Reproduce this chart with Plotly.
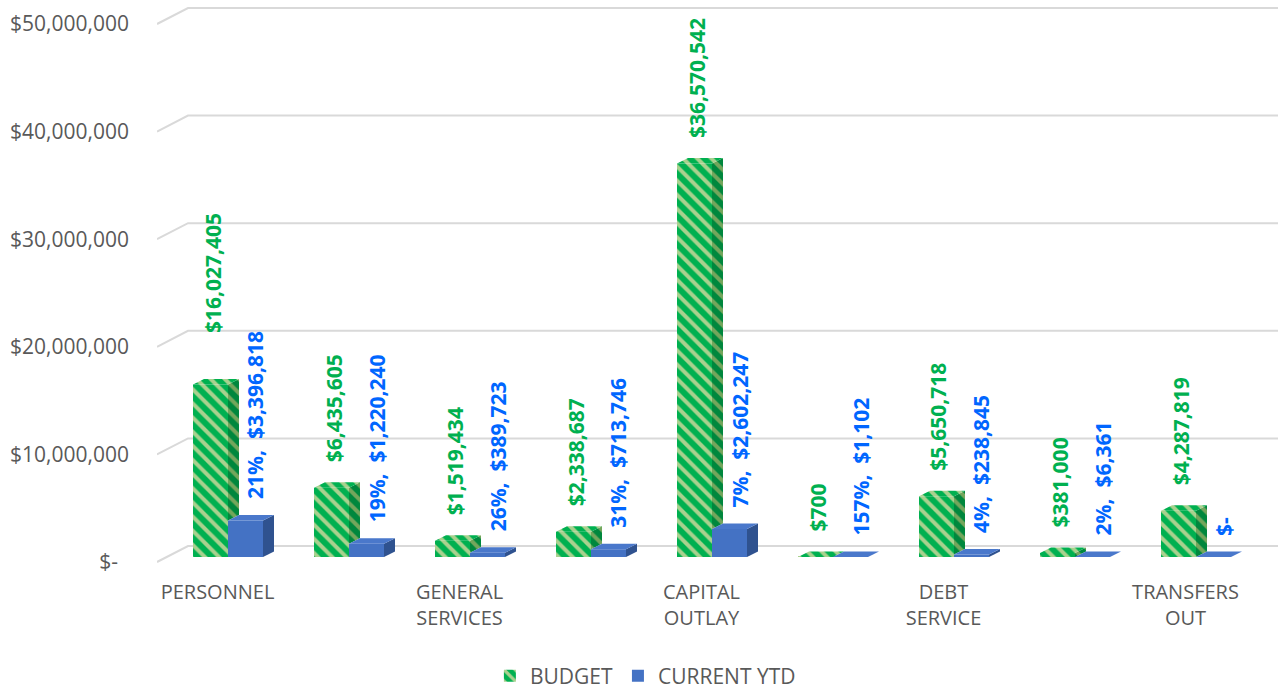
import plotly.graph_objects as go

# ---- data -------------------------------------------------------------
categories = ["PERSONNEL", "", "GENERAL<br>SERVICES", "", "CAPITAL<br>OUTLAY", "",
              "DEBT<br>SERVICE", "", "TRANSFERS<br>OUT"]
budget = [16027405, 6435605, 1519434, 2338687, 36570542, 700, 5650718, 381000, 4287819]
current_ytd = [3396818, 1220240, 389723, 713746, 2602247, 1102, 238845, 6361, 0]
y_ticks = [0, 10000000, 20000000, 30000000, 40000000, 50000000]
y_tick_labels = ["$-\u00a0\u00a0", "$10,000,000", "$20,000,000", "$30,000,000",
                 "$40,000,000", "$50,000,000"]

# ---- geometry (pixels) -------------------------------------------------
W, H = 1278, 692
M_L, M_T, M_B = 157, 0, 122
PLOT_W = W - M_L
PLOT_H = H - M_T - M_B
PX_PER_CAT = 121.0
PX_PER_USD = 10.76e-6
BAR_BASE_PX = 557          # bar floor (from plot top)
FRONT_BASE_PX = 562        # front edge of the floor
BACK_BASE_PX = 546         # back wall floor line
WALL_DX_PX = 31            # depth of the side wall
BAR_DX_PX, BAR_DY_PX = 11, 5.5
BAR_W_PX = 35
GROUP_SHIFT_PX = 10.5

GREEN = "#00b050"
GREEN_STRIPE = "#a9d18e"
GREEN_DARK = "#00873d"
GREEN_DARK_STRIPE = "#74a65c"
BLUE = "#4472c4"
BLUE_DARK = "#2f528f"
BLUE_TOP = "#4a78cb"
LABEL_GREEN = "#00b050"
LABEL_BLUE = "#0066ff"
TEXT_GREY = "#595959"
GRID = "#d9d9d9"
FONT = "Open Sans"


def px_x(px):
    return px / PX_PER_CAT


def px_y(px):
    return px / PX_PER_USD


x_min = -0.5
x_max = x_min + px_x(PLOT_W)
y_min = -px_y(PLOT_H - BAR_BASE_PX)
y_max = px_y(BAR_BASE_PX)

BW = px_x(BAR_W_PX)
DX, DY = px_x(BAR_DX_PX), px_y(BAR_DY_PX)
shift = px_x(GROUP_SHIFT_PX)
xs = [i + shift for i in range(len(budget))]


def pattern(bg, fg):
    return dict(shape="\\", bgcolor=bg, fgcolor=fg, size=10, solidity=0.4,
                fillmode="replace")


def poly_trace(polys, fillcolor, fillpattern=None):
    px, py = [], []
    for p in polys:
        for (a, b) in p + [p[0]]:
            px.append(a)
            py.append(b)
        px.append(None)
        py.append(None)
    kw = dict(x=px, y=py, mode="lines", fill="toself", fillcolor=fillcolor,
              line=dict(width=0, color=fillcolor), showlegend=False,
              hoverinfo="skip")
    if fillpattern:
        kw["fillpattern"] = fillpattern
    return go.Scatter(**kw)


fig = go.Figure()

# front faces
fig.add_trace(go.Bar(
    name="BUDGET", x=xs, y=budget, width=BW, offset=-BW,
    marker=dict(color=GREEN, line=dict(width=0),
                pattern=pattern(GREEN, GREEN_STRIPE)),
    hovertemplate="%{y:$,.0f}<extra>BUDGET</extra>"))
fig.add_trace(go.Bar(
    name="CURRENT YTD", x=xs, y=current_ytd, width=BW, offset=0,
    marker=dict(color=BLUE, line=dict(width=0)),
    hovertemplate="%{y:$,.0f}<extra>CURRENT YTD</extra>"))

# side and top faces
b_side, b_top, c_side, c_top = [], [], [], []
for x, b, c in zip(xs, budget, current_ytd):
    x0, x1 = x - BW, x
    lo = min(b, c)
    b_side.append([(x1, lo), (x1 + DX, lo + DY), (x1 + DX, b + DY), (x1, b)])
    b_top.append([(x0, b), (x0 + DX, b + DY), (x1 + DX, b + DY), (x1, b)])
    x0, x1 = x, x + BW
    c_side.append([(x1, 0), (x1 + DX, DY), (x1 + DX, c + DY), (x1, c)])
    c_top.append([(x0, c), (x0 + DX, c + DY), (x1 + DX, c + DY), (x1, c)])

fig.add_trace(poly_trace(b_side, GREEN_DARK, pattern(GREEN_DARK, GREEN_DARK_STRIPE)))
fig.add_trace(poly_trace(b_top, GREEN, pattern(GREEN, GREEN_STRIPE)))
fig.add_trace(poly_trace(c_side, BLUE_DARK))
fig.add_trace(poly_trace(c_top, BLUE_TOP))

# empty trace so the front-plane value axis is drawn
fig.add_trace(go.Scatter(x=[None], y=[None], yaxis="y2", showlegend=False,
                         hoverinfo="skip"))

# wall gridlines: slanted on the left, then along the back wall
front_off = px_y(BAR_BASE_PX - FRONT_BASE_PX)
back_off = px_y(BAR_BASE_PX - BACK_BASE_PX)
x_back = x_min + px_x(WALL_DX_PX)
shapes = []
for t in y_ticks:
    shapes.append(dict(
        type="path", xref="x", yref="y", layer="below",
        path=f"M {x_min},{t + front_off} L {x_back},{t + back_off} L {x_max},{t + back_off}",
        line=dict(color=GRID, width=2)))

# data labels
annotations = []
label_font = dict(family=FONT, size=21, weight="bold")
for i, (x, b, c) in enumerate(zip(xs, budget, current_ytd)):
    lift = 26 if i == 0 else 0
    annotations.append(dict(
        x=x - BW / 2, y=b, xref="x", yref="y", text=f"${b:,}",
        textangle=-90, showarrow=False, xanchor="center", yanchor="bottom",
        xshift=2, yshift=23 + lift,
        font=dict(label_font, color=LABEL_GREEN)))
    ctext = f"{c / b:.0%},  ${c:,}" if c else "$-"
    annotations.append(dict(
        x=x + BW / 2, y=c, xref="x", yref="y", text=ctext,
        textangle=-90, showarrow=False, xanchor="center", yanchor="bottom",
        xshift=10, yshift=19,
        font=dict(label_font, color=LABEL_BLUE)))

tick_idx = [i for i, c in enumerate(categories) if c]

fig.update_layout(
    width=W, height=H,
    margin=dict(l=M_L, r=0, t=M_T, b=M_B, pad=0),
    paper_bgcolor="white", plot_bgcolor="white",
    barmode="overlay",
    font=dict(family=FONT, size=20, color=TEXT_GREY),
    xaxis=dict(range=[x_min, x_max], showgrid=False, zeroline=False,
               showline=False, ticks="", tickmode="array",
               tickvals=tick_idx, ticktext=[categories[i] for i in tick_idx],
               ticklabelstandoff=8,
               tickfont=dict(family=FONT, size=20, color=TEXT_GREY)),
    yaxis=dict(range=[y_min, y_max], visible=False, fixedrange=True),
    yaxis2=dict(range=[-px_y(PLOT_H - FRONT_BASE_PX), px_y(FRONT_BASE_PX)],
                overlaying="y", side="left", showgrid=False, zeroline=False,
                showline=False, ticks="", tickmode="array", tickvals=y_ticks,
                ticktext=y_tick_labels, ticklabelstandoff=27,
                tickfont=dict(family=FONT, size=21, color=TEXT_GREY)),
    shapes=shapes,
    annotations=annotations,
    legend=dict(orientation="h", xref="container", yref="container",
                x=0.505, y=1 - 676 / H, xanchor="center", yanchor="middle",
                font=dict(family=FONT, size=21, color=TEXT_GREY),
                traceorder="normal", borderwidth=0),
    showlegend=True,
)

fig.write_html("out.html")
